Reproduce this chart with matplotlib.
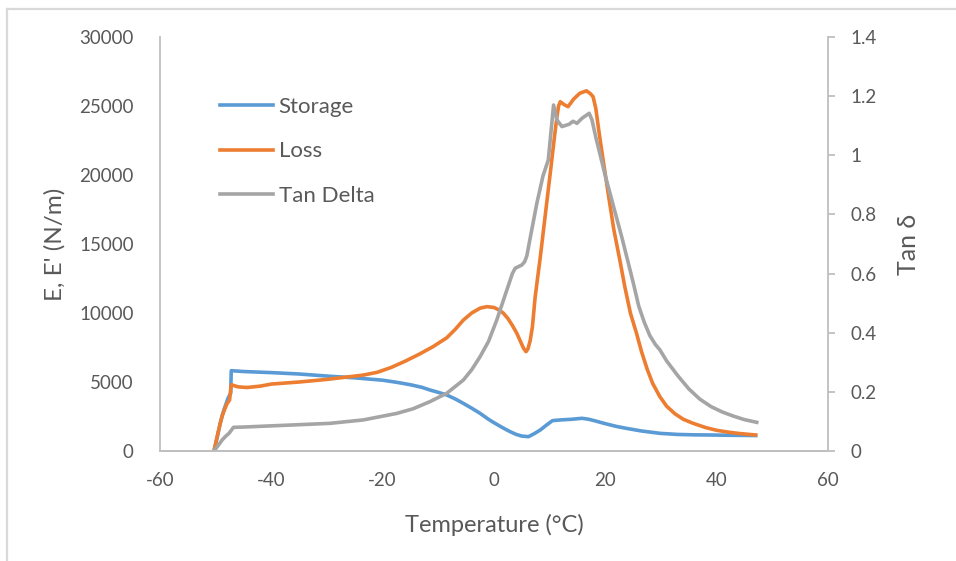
import matplotlib
matplotlib.use("Agg")
import matplotlib.pyplot as plt
from matplotlib.lines import Line2D

plt.rcParams['font.family'] = ['Lato', 'DejaVu Sans']

# ---- data ----
storage_T = [-50.3, -49.6, -49.2, -48.5, -47.8, -47.3, -47.2, -45, -40, -35, -30, -25, -20,
             -17.5, -15, -13, -11.5, -10, -8.5, -7, -5.5, -4, -2.5, -1, 0, 1.5, 2.9, 4, 5, 6.2,
             7.2, 8.3, 9.5, 10.5, 11.9, 14, 15.8, 17, 18, 20, 22, 23.8, 26.5, 29.8, 33, 36,
             38.8, 42, 45, 47]
storage = [0, 1200, 2000, 3000, 3800, 4200, 5820, 5760, 5680, 5580, 5430, 5300, 5130,
           4980, 4800, 4620, 4420, 4250, 4060, 3780, 3450, 3100, 2730, 2300, 2050, 1700, 1400, 1200, 1080, 1040,
           1250, 1520, 1900, 2200, 2250, 2300, 2370, 2300, 2200, 1980, 1780, 1640, 1450, 1280, 1200, 1170,
           1160, 1140, 1130, 1120]

loss_T = [-50.3, -49.6, -48.8, -48.0, -47.5, -47.2, -46, -44.4, -42, -40, -35, -30, -26,
          -23.5, -21, -18.5, -16, -13.5, -11, -8.5, -7, -5.5, -4, -2.5, -1.3, 0, 1, 1.7, 2.5,
          3.3, 4.1, 4.8, 5.3, 5.75, 6.1, 6.5, 6.9, 7.4, 8.3, 9.3, 10.3, 10.9, 11.3, 11.6, 11.9,
          12.6, 13.3, 14.3, 15.4, 16.6, 17.3, 17.8, 18.3, 18.8, 19.6, 20.5, 21.5, 22.6, 23.5,
          24.5, 25.6, 26.5, 27.5, 28.5, 29.8, 31, 32.5, 34, 35.8, 38, 40, 42, 44, 47]
loss = [0, 1300, 2600, 3400, 3700, 4800, 4650, 4600, 4700, 4850, 5000, 5190, 5380,
        5500, 5700, 6050, 6500, 7000, 7550, 8200, 8800, 9490, 10000, 10350, 10460, 10400, 10200, 9980, 9600,
        9100, 8530, 7900, 7450, 7200, 7400, 8000, 9000, 11180, 14000, 17400, 20800, 22900, 24200, 25000, 25310,
        25100, 24950, 25500, 25920, 26100, 25900, 25670, 24800, 23300, 21090, 18700, 16100, 13840, 11900,
        10000, 8530, 7200, 5950, 4900, 3935, 3250, 2700, 2300, 2000, 1700, 1500, 1370, 1270, 1160]

tan_T = [-50.3, -49.5, -48.8, -48.3, -47.6, -47.2, -46.8, -45, -40, -35, -29.5, -23.5, -17.5,
         -14.5, -11.5, -8.5, -5.5, -4, -2.5, -1, 0.5, 2.3, 3.3, 3.8, 5.0, 5.5, 5.9, 6.5, 7.7, 8.8,
         9.75, 10.7, 11.3, 12.2, 13.5, 14.2, 14.9, 15.8, 17.1, 17.6, 18.3, 19.0, 20, 21, 22,
         23, 24, 25, 26, 27, 28, 29, 29.8, 31, 33, 35, 37, 39, 41, 43, 45, 47.2]
tan_delta = [0, 0.02, 0.038, 0.048, 0.06, 0.07, 0.08, 0.081, 0.085, 0.089, 0.0935, 0.105, 0.127,
             0.143, 0.167, 0.195, 0.240, 0.275, 0.319, 0.37, 0.443, 0.544, 0.60, 0.618, 0.629, 0.64, 0.66, 0.72, 0.838, 0.93,
             0.984, 1.17, 1.12, 1.097, 1.105, 1.115, 1.108, 1.125, 1.142, 1.12, 1.06, 1.007, 0.93, 0.86, 0.79,
             0.72, 0.645, 0.57, 0.49, 0.435, 0.39, 0.36, 0.342, 0.305, 0.255, 0.21, 0.175, 0.15, 0.132, 0.118, 0.106, 0.097]

x_ticks = [-60, -40, -20, 0, 20, 40, 60]
y_left_ticks = [0, 5000, 10000, 15000, 20000, 25000, 30000]
y_right_ticks = [0, 0.2, 0.4, 0.6, 0.8, 1, 1.2, 1.4]
y_right_labels = ['0', '0.2', '0.4', '0.6', '0.8', '1', '1.2', '1.4']

BLUE = '#5B9BD5'
ORANGE = '#ED7D31'
GRAY = '#A5A5A5'
TXT = '#595959'
AX = '#BFBFBF'

fig = plt.figure(figsize=(9.56, 5.61), dpi=100)
ax = fig.add_axes([160/956, 1-451/561, (828-160)/956, (451-37)/561])
ax2 = ax.twinx()

lw = 2.6
l1, = ax.plot(storage_T, storage, color=BLUE, lw=lw, label='Storage', solid_joinstyle='round')
l2, = ax.plot(loss_T, loss, color=ORANGE, lw=lw, label='Loss', solid_joinstyle='round')
l3, = ax2.plot(tan_T, tan_delta, color=GRAY, lw=lw, label='Tan Delta', solid_joinstyle='round')

ax.set_xlim(-60, 60)
ax.set_ylim(0, 30000)
ax2.set_ylim(0, 1.4)
ax.set_xticks(x_ticks)
ax.set_xticklabels([str(v) for v in x_ticks])
ax.set_yticks(y_left_ticks)
ax.set_yticklabels([str(v) for v in y_left_ticks])
ax2.set_yticks(y_right_ticks)
ax2.set_yticklabels(y_right_labels)

for a in (ax, ax2):
    a.spines['top'].set_visible(False)
    for s in ('left', 'right', 'bottom'):
        a.spines[s].set_color(AX)
        a.spines[s].set_linewidth(1.3)
    a.tick_params(colors=TXT, labelsize=13.5)

ax2.spines['left'].set_visible(False)
ax.spines['right'].set_visible(False)
ax.tick_params(axis='x', length=0, pad=15)
ax.tick_params(axis='y', length=0, pad=19)
ax2.tick_params(axis='y', length=5, width=1.3, color=AX, pad=11)

ax.set_xlabel('Temperature (°C)', fontsize=17, color=TXT, labelpad=18)
ax.set_ylabel("E, E' (N/m)", fontsize=17.5, color=TXT, labelpad=10)
ax2.set_ylabel('Tan δ', fontsize=18, color=TXT, labelpad=15)

leg = ax.legend(handles=[l1, l2, l3], loc='upper left', bbox_to_anchor=(0.06, 0.903),
                frameon=False, fontsize=16, labelcolor=TXT, handlelength=2.4,
                handletextpad=0.23, labelspacing=1.09)

# light outer border lines (top and left) as in the reference
fig.add_artist(Line2D([7/956, 1.0], [1-9/561, 1-9/561], transform=fig.transFigure,
                      color='#D9D9D9', lw=1.6))
fig.add_artist(Line2D([7/956, 7/956], [0.0, 1-9/561], transform=fig.transFigure,
                      color='#D9D9D9', lw=1.6))

fig.savefig('out.png', dpi=100)
